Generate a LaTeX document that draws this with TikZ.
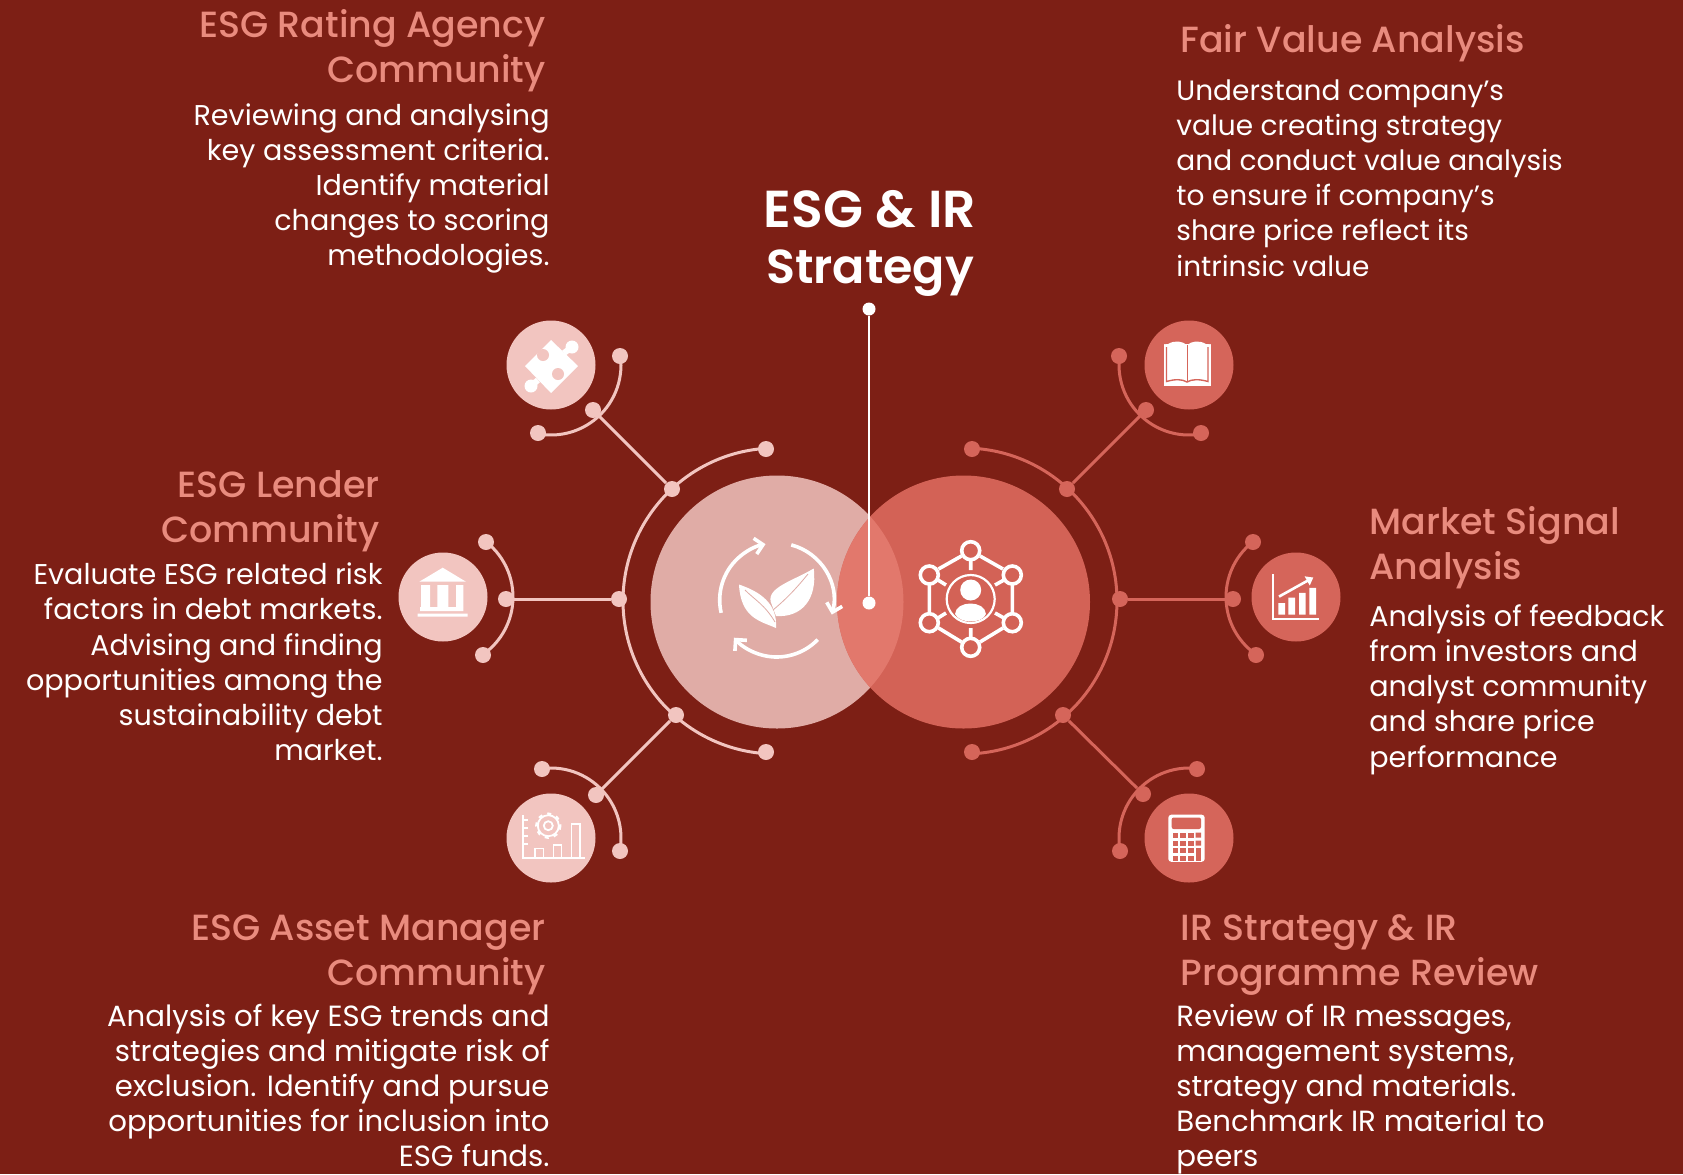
\documentclass[tikz,border=0pt]{standalone}
\usepackage{fontspec}
\usetikzlibrary{arrows.meta}
\setmainfont{Poppins}
\newfontfamily\hfont{Poppins Medium}
\newfontfamily\tfont{Poppins SemiBold}
\definecolor{bg}{HTML}{7D1F15}
\definecolor{lpink}{HTML}{F2C5C0}
\definecolor{lcirc}{HTML}{E0ACA6}
\definecolor{rcirc}{HTML}{D36256}
\definecolor{rdark}{HTML}{D5655A}
\definecolor{mid}{HTML}{E2786C}
\definecolor{ttl}{HTML}{E98B7E}
\tikzset{
 lline/.style={draw=lpink,line width=1.5pt},
 rline/.style={draw=rdark,line width=1.5pt},
 ldot/.style={circle,fill=lpink,minimum size=8pt,inner sep=0pt},
 rdot/.style={circle,fill=rdark,minimum size=8pt,inner sep=0pt},
 lic/.style={circle,fill=lpink,minimum size=44.5pt,inner sep=0pt},
 ric/.style={circle,fill=rdark,minimum size=44.5pt,inner sep=0pt},
 ttlR/.style={text=ttl,align=right,anchor=north east,font=\hfont\fontsize{18.2}{22.5}\selectfont,inner sep=0pt},
 ttlL/.style={text=ttl,align=left,anchor=north west,font=\hfont\fontsize{18.2}{22.5}\selectfont,inner sep=0pt},
 bodR/.style={text=white,align=right,anchor=north east,font=\fontsize{14.3}{17.6}\selectfont,inner sep=0pt},
 bodL/.style={text=white,align=left,anchor=north west,font=\fontsize{14.3}{17.6}\selectfont,inner sep=0pt},
 icoA/.style={draw=white,line width=1.8pt},
 icoT/.style={draw=white,line width=0.9pt},
}
\begin{document}
\begin{tikzpicture}[x=0.5pt,y=-0.5pt]
\useasboundingbox (0,0) rectangle (1683,1174);
\fill[bg] (0,0) rectangle (1683,1174);
% big circles
\node[circle,fill=lcirc,minimum size=126.5pt,inner sep=0pt] (cl) at (777,602) {};
\node[circle,fill=rcirc,minimum size=126.5pt,inner sep=0pt] (cr) at (963.5,602) {};
\begin{scope}
\clip (777,602) circle[radius=126.5];
\fill[mid] (963.5,602) circle[radius=126.5];
\end{scope}
% outer arcs
\draw[lline] (776,601) ++(266.2:153) arc[start angle=266.2,end angle=93.8,radius=153];
\draw[rline] (964,601) ++(-87.4:153) arc[start angle=-87.4,end angle=87.4,radius=153];
% icon discs
\node[lic] (n1) at (551,365) {};
\node[lic] (n2) at (443,597) {};
\node[lic] (n3) at (551,838) {};
\node[ric] (n4) at (1189,365) {};
\node[ric] (n5) at (1296,597) {};
\node[ric] (n6) at (1189,838) {};
% small arcs
\draw[lline] (n1.center) ++(-7.4:70) arc[start angle=-7.4,end angle=100.8,radius=70];
\draw[lline] (n2.center) ++(-52:70) arc[start angle=-52,end angle=55.4,radius=70];
\draw[lline] (n3.center) ++(262.6:70) arc[start angle=262.6,end angle=370.7,radius=70];
\draw[rline] (n4.center) ++(187.3:70) arc[start angle=187.3,end angle=80,radius=70];
\draw[rline] (n5.center) ++(232:70) arc[start angle=232,end angle=124.6,radius=70];
\draw[rline] (n6.center) ++(276.6:70) arc[start angle=276.6,end angle=169.3,radius=70];
% dots
\foreach \n/\p in {a1/{620,356},a2/{538,433},a3/{593,410},a4/{672,489},a5/{766,449},a6/{619,599},a7/{676,715},a8/{766,752},a9/{486,542},a10/{483,655},a11/{506,599},a12/{542,769},a13/{620,851},a14/{596,795}}
  \node[ldot] (\n) at (\p) {};
\foreach \n/\p in {b1/{1119,356},b2/{1201,433},b3/{1146,410},b4/{1067,489},b5/{972,449},b6/{1120,599},b7/{1063,715},b8/{972,752},b9/{1253,542},b10/{1256,655},b11/{1233,599},b12/{1197,769},b13/{1120,851},b14/{1143,794}}
  \node[rdot] (\n) at (\p) {};
\draw[lline] (a3)--(a4);
\draw[lline] (a11)--(a6);
\draw[lline] (a14)--(a7);
\draw[rline] (b3)--(b4);
\draw[rline] (b11)--(b6);
\draw[rline] (b14)--(b7);
% center
\node[circle,fill=white,minimum size=6.5pt,inner sep=0pt] (d1) at (869,309) {};
\node[circle,fill=white,minimum size=6.5pt,inner sep=0pt] (d2) at (869,603) {};
\draw[white,line width=0.8pt] (d1)--(d2);
% ---- leaf + cycle icon
\draw[icoA,-{Straight Barb[length=4pt,width=8pt]}] (776.7,600) ++(167:57) arc[start angle=167,end angle=258.7,radius=57];
\draw[icoA,-{Straight Barb[length=4pt,width=8pt]}] (776.7,600) ++(284.8:57) arc[start angle=284.8,end angle=374.8,radius=57];
\draw[icoA,-{Straight Barb[length=4pt,width=8pt]}] (776.7,600) ++(44:57) arc[start angle=44,end angle=138.6,radius=57];
\fill[white] (739,584.5) .. controls (760,591.7) and (777.7,603.3) .. (776,628) .. controls (760,621) and (740.7,618) .. cycle;
\fill[white] (813.7,568.5) .. controls (793.3,580.7) and (767.3,587.3) .. (770.7,601.7) -- (776,616) .. controls (801,617.7) and (817.7,600) .. cycle;
\draw[lcirc,line width=0.4pt] (745,590) .. controls (755,600) and (765,605) .. (775,622);
\draw[lcirc,line width=0.4pt] (808,574) .. controls (795,590) and (785,600) .. (773,610);
% ---- network icon
\foreach \p in {(970.7,550.7),(970.7,647.3),(929.3,575),(1012.3,575),(929.3,622.7),(1012.3,622.7)}
  \draw[icoA] \p circle[radius=9];
\draw[icoA] (961.5,556)--(938.5,569) (980,556)--(1003,569) (1012.3,584)--(1012.3,613.7) (1003,628)--(980,642) (961.5,642)--(938.5,628) (929.3,613.7)--(929.3,584);
\draw[icoA] (970.7,560)--(970.7,570) (970.7,628)--(970.7,638) (938,580)--(946,585) (1004,580)--(995,585) (938,618)--(946,613) (1004,618)--(995,613);
\draw[draw=white,line width=1.1pt] (970.7,599) circle[radius=24];
\fill[white] (970.7,590) circle[radius=10.5];
\fill[white] (955,614) .. controls (956,600) and (985,600) .. (986,614) .. controls (982,624) and (960,624) .. cycle;
% ---- puzzle
\fill[white] (551,340)--(578,366)--(551,393)--(525,366)--cycle;
\fill[white] (572,347) circle[radius=6.5];
\fill[white] (531,386) circle[radius=6.5];
\draw[white,line width=3pt] (572,347)--(564,353) (531,386)--(538,380);
\fill[lpink] (543,355) circle[radius=6];
\fill[lpink] (558,374) circle[radius=6];
% ---- bank
\fill[white] (442.7,567.7)--(466,581.7)--(419.3,581.7)--cycle;
\fill[white] (421,585) rectangle (430,607) (437.3,585) rectangle (448.3,607) (456,585) rectangle (463.3,607);
\fill[white] (420,607) rectangle (463.3,611) (417.7,613.5) rectangle (467.7,616.7);
% ---- gear chart
\draw[icoT] (522.7,815)--(522.7,858.3)--(585,858.3);
\draw[icoT] (522.7,820)--(528,820) (522.7,828)--(528,828) (522.7,836)--(528,836) (522.7,844)--(528,844);
\draw[icoT] (535,858.3)--(535,848.5)--(543.5,848.5)--(543.5,858.3);
\draw[icoT] (553.5,858.3)--(553.5,845)--(561.5,845)--(561.5,858.3);
\draw[icoT] (571.5,858.3)--(571.5,824)--(580,824)--(580,858.3);
\draw[icoT] (548.3,825.7) circle[radius=4.5];
\draw[icoT] (548.3,825.7) circle[radius=10.5];
\draw[white,line width=1.2pt,dash pattern=on 2pt off 2.6pt] (548.3,825.7) circle[radius=12];
% ---- book
\fill[white] (1163.5,344) rectangle (1211,386);
\draw[rdark,line width=0.7pt] (1166.5,347) -- (1166.5,381.5) .. controls (1175,379) and (1182,379) .. (1187,382) .. controls (1192,379) and (1199,379) .. (1208,381.5) -- (1208,347);
\fill[rdark] (1163,341) rectangle (1166,344) (1208.5,341) rectangle (1212,344);
\fill[white] (1168,344) .. controls (1175,340) and (1182,341) .. (1187,345) .. controls (1192,341) and (1199,340) .. (1206,344) -- (1206,380) .. controls (1199,377) and (1192,377) .. (1187,380) .. controls (1182,377) and (1175,377) .. (1168,380) -- cycle;
\draw[rdark,line width=0.5pt] (1187,345)--(1187,382);
% ---- market chart
\draw[white,line width=1pt] (1273,574)--(1273,619)--(1319,619);
\fill[white] (1278.3,603) rectangle (1285,614.6) (1288.3,597.7) rectangle (1295,614.6) (1299,592.8) rectangle (1305.7,614.6) (1309.3,587.8) rectangle (1316,614.6);
\draw[white,line width=1.3pt,-{Triangle[length=3.5pt,width=5pt]}] (1279,596.6)--(1313.3,577.5);
% ---- calculator
\fill[white,rounded corners=1.5pt] (1168.3,814.7) rectangle (1204.7,861.8);
\fill[rdark,rounded corners=1pt] (1171.7,817.5) rectangle (1201,829);
\foreach \x in {1172.5,1180,1188}
  \foreach \y in {832.5,840.5,848,855.5}
    \fill[rdark] (\x,\y) rectangle +(5.5,5.2);
\fill[rdark] (1195.5,832.5) rectangle +(5.5,5.2) (1195.5,840.5) rectangle +(5.5,5.2);
\fill[rdark] (1195.5,848) rectangle +(5.5,12.7);
% title
\node[text=white,align=center,font=\tfont\fontsize{25}{28}\selectfont,inner sep=0pt] (title) at (870,243.5) {\fontsize{26}{28}\selectfont ESG \& IR\\\fontsize{23.8}{28}\selectfont Strategy};
% texts
\node[ttlR] (t1) at (546,9) {ESG Rating Agency\\Community};
\node[bodR] (p1) at (550,103) {Reviewing and analysing\\key assessment criteria.\\Identify material\\changes to scoring\\methodologies.};
\node[ttlR] (t2) at (380,470) {ESG Lender\\Community};
\node[bodR] (p2) at (383,562.5) {Evaluate ESG related risk\\factors in debt markets.\\Advising and finding\\opportunities among the\\sustainability debt\\market.};
\node[ttlR] (t3) at (546,914) {ESG Asset Manager\\Community};
\node[bodR,font=\fontsize{14.6}{17.5}\selectfont] (p3) at (550,1004) {Analysis of key ESG trends and\\strategies and mitigate risk of\\exclusion. Identify and pursue\\opportunities for inclusion into\\ESG funds.};
\node[ttlL] (t4) at (1180,24) {Fair Value Analysis};
\node[bodL,font=\fontsize{14}{17.6}\selectfont] (p4) at (1176,79) {Understand company’s\\value creating strategy\\and conduct value analysis\\to ensure if company’s\\share price reflect its\\intrinsic value};
\node[ttlL] (t5) at (1369,506) {Market Signal\\Analysis};
\node[bodL] (p5) at (1369,604) {Analysis of feedback\\from investors and\\analyst community\\and share price\\performance};
\node[ttlL] (t6) at (1180,914) {IR Strategy \& IR\\Programme Review};
\node[bodL,font=\fontsize{14.6}{17.5}\selectfont] (p6) at (1176,1004) {Review of IR messages,\\management systems,\\strategy and materials.\\Benchmark IR material to\\peers};
\end{tikzpicture}
\end{document}
